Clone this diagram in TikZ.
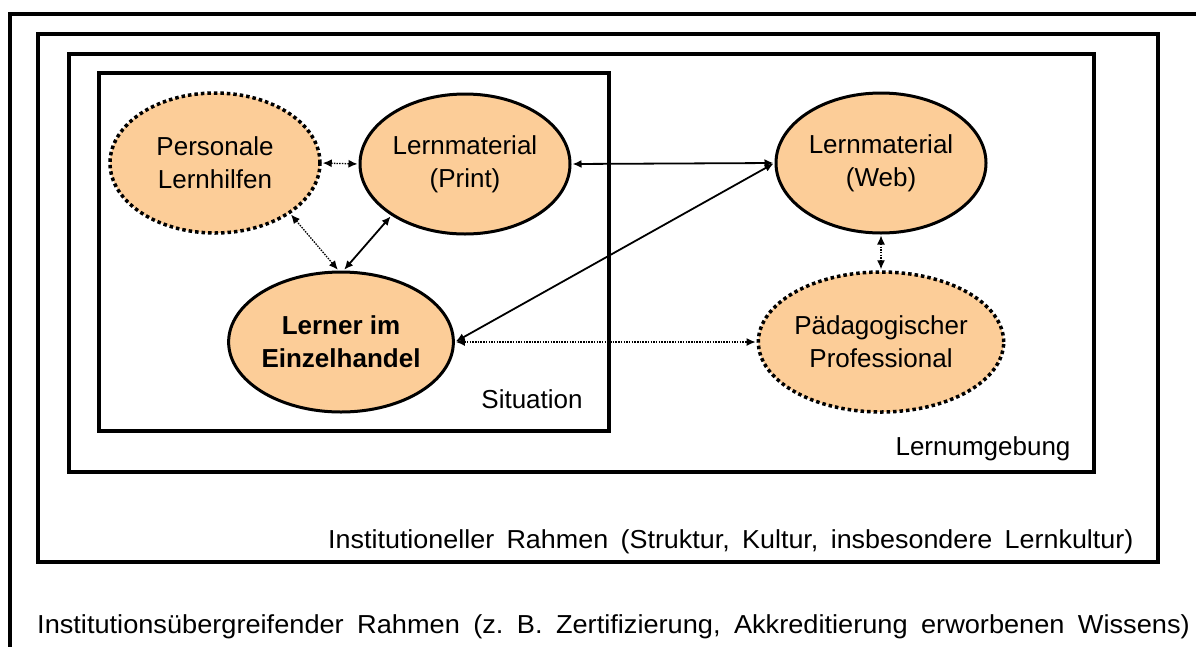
\documentclass[tikz,border=0pt]{standalone}
\usepackage{fontspec}
\setmainfont{Liberation Sans}
\usetikzlibrary{shapes.geometric,arrows.meta}
\definecolor{fillor}{HTML}{FCCD98}
\frenchspacing
\tikzset{
  frame/.style={draw=black,line width=4.5pt},
  bubble/.style={ellipse,fill=fillor,inner sep=0pt,minimum width=210pt,minimum height=140pt,align=center,font=\fontsize{26}{33}\selectfont},
  solidbub/.style={bubble,draw=black,line width=3pt},
  dotbub/.style={bubble,draw=black,line width=3.5pt,dash pattern=on 3.5pt off 3pt},
  tip/.tip={Latex[length=9pt,width=8pt]},
  link/.style={line width=1.8pt,tip-tip,shorten <=1pt,shorten >=1pt},
  dlink/.style={line width=1.3pt,dash pattern=on 1.5pt off 1.2pt,tip-tip,shorten <=1pt,shorten >=1pt},
  lab/.style={font=\fontsize{26}{30}\selectfont,inner sep=0pt,anchor=base}
}
\begin{document}
\begin{tikzpicture}[x=1pt,y=-1pt]
\useasboundingbox (0,0) rectangle (1196,646);
\fill[white] (0,0) rectangle (1196,646);
\begin{scope}
\clip (0,0) rectangle (1196,646);
\draw[frame] (10,670) -- (10,14) -- (1220,14);
\end{scope}
\draw[frame] (38,34) rectangle (1158,562);
\draw[frame] (69,54) rectangle (1094,472);
\draw[frame] (99,73) rectangle (609,431);

\node[dotbub] (pers) at (215,163) {Personale\\Lernhilfen};
\node[solidbub] (print) at (465,164) {Lernmaterial\\(Print)};
\node[solidbub] (web) at (881,163) {Lernmaterial\\(Web)};
\node[dotbub] (paed) at (881,342) {Pädagogischer\\Professional};
\node[solidbub,minimum width=222pt,font=\fontsize{26}{33}\selectfont\bfseries] (lerner) at (341,342) {Lerner im\\Einzelhandel};

\draw[dlink] (pers.east) -- (print.west);
\draw[link] (print.east) -- (web.west);
\draw[dlink] (pers.-34) -- (lerner.92);
\draw[link] (print.-145) -- (lerner.88);
\draw[link] (lerner.east) -- (web.west);
\draw[dlink] (lerner.east) -- (paed.west);
\draw[dlink] (web.south) -- (paed.north);

\node[lab] (sit) at (532,408) {Situation};
\node[lab] (lu) at (983,455) {Lernumgebung};
\node[lab,anchor=base west] (ir) at (328,548) {\scalebox{1.035}[1]{\makebox[778pt][s]{Institutioneller Rahmen (Struktur, Kultur, insbesondere Lernkultur)}}};
\node[lab,anchor=base west] (iur) at (37,633) {\scalebox{1.045}[1]{\makebox[1103pt][s]{Institutionsübergreifender Rahmen (z. B. Zertifizierung, Akkreditierung erworbenen Wissens)}}};
\end{tikzpicture}
\end{document}
